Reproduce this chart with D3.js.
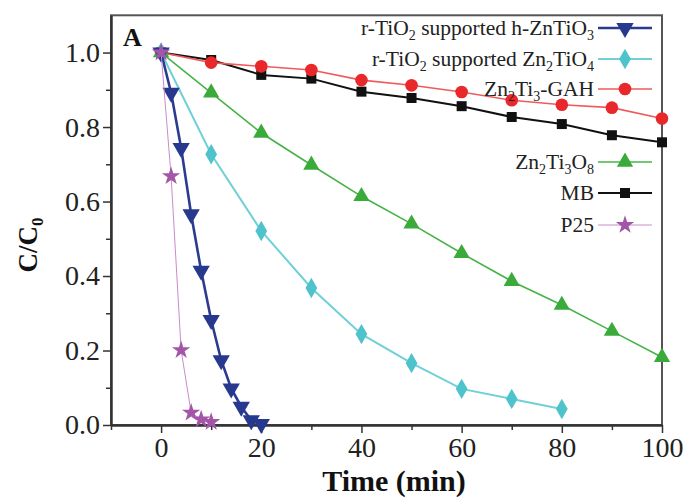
<!DOCTYPE html>
<html><head><meta charset="utf-8">
<script src="https://cdnjs.cloudflare.com/ajax/libs/d3/7.8.5/d3.min.js"></script>
<style>body{margin:0;background:#fff}svg{display:block}text{font-family:"Liberation Serif","Times New Roman",serif}</style>
</head><body><svg id="c" width="686" height="499"></svg>
<script>
// ---- data ----
const time10 = [0,10,20,30,40,50,60,70,80,90,100];
const mbVals = [1.0,0.98,0.94,0.93,0.895,0.878,0.856,0.827,0.808,0.778,0.759];
const gahVals = [1.0,0.973,0.963,0.953,0.926,0.912,0.894,0.872,0.860,0.852,0.823];
const zn2ti3o8Vals = [1.0,0.892,0.784,0.698,0.614,0.54,0.461,0.386,0.322,0.252,0.182];
const time80 = [0,10,20,30,40,50,60,70,80];
const zn2tio4Vals = [1.0,0.727,0.521,0.368,0.244,0.166,0.097,0.07,0.043];
const time2 = [0,2,4,6,8,10,12,14,16,18,20];
const znTiO3Vals = [1.0,0.892,0.744,0.566,0.414,0.282,0.174,0.098,0.049,0.013,0.003];
const timeP25 = [0,2,4,6,8,10];
const p25Vals = [1.0,0.668,0.201,0.033,0.015,0.008];
const xTicks = [0,20,40,60,80,100];
const xMinor = [-10,10,30,50,70,90];
const yTicks = [0,0.2,0.4,0.6,0.8,1.0];
const yMinor = [0.1,0.3,0.5,0.7,0.9];

const svg = d3.select("#c");
const x = d3.scaleLinear().domain([-10,100]).range([111,662]);
const y = d3.scaleLinear().domain([0,1.1]).range([425,15.3]);

// frame
svg.append("rect").attr("x",111).attr("y",15.3).attr("width",551).attr("height",409.7)
  .attr("fill","none").attr("stroke","#555").attr("stroke-width",2);

const fmt = d3.format(".1f");
svg.append("g").attr("transform","translate(0,425)")
  .call(d3.axisBottom(x).tickValues(xTicks).tickSize(8).tickPadding(4).tickSizeOuter(0));
svg.append("g").attr("transform","translate(0,425)")
  .call(d3.axisBottom(x).tickValues(xMinor).tickSize(5).tickFormat("").tickSizeOuter(0));
svg.append("g").attr("transform","translate(111,0)")
  .call(d3.axisLeft(y).tickValues(yTicks).tickSize(8).tickPadding(3).tickFormat(fmt).tickSizeOuter(0));
svg.append("g").attr("transform","translate(111,0)")
  .call(d3.axisLeft(y).tickValues(yMinor).tickSize(5).tickFormat("").tickSizeOuter(0));
svg.selectAll(".domain").attr("stroke","#333").attr("stroke-width",2);
svg.selectAll(".tick line").attr("stroke","#333").attr("stroke-width",1.5);
svg.selectAll(".tick text").attr("font-family","Liberation Serif").attr("font-size",28).attr("fill","#222");

// series
const series = [
  {t:time10, v:mbVals, color:"#111", line:"#111", lw:2, sym:d3.symbolSquare, size:100, rot:0},
  {t:time10, v:gahVals, color:"#e8282a", line:"#f05a5a", lw:1.6, sym:d3.symbolCircle, size:125, rot:0},
  {t:time10, v:zn2ti3o8Vals, color:"#3aab3a", line:"#47b347", lw:1.6, sym:d3.symbolTriangle, size:115, rot:0},
  {t:time80, v:zn2tio4Vals, color:"#4fc3cc", line:"#6fd0d8", lw:2, sym:d3.symbolDiamond, size:120, rot:0},
  {t:time2, v:znTiO3Vals, color:"#27388f", line:"#2b3b8f", lw:2.6, sym:d3.symbolTriangle, size:130, rot:180},
  {t:timeP25, v:p25Vals, color:"#a455a8", line:"#c98ccb", lw:1, sym:d3.symbolStar, size:105, rot:0}
];
const line = d3.line().x(d=>x(d[0])).y(d=>y(d[1]));
series.forEach(s=>{
  const pts = s.t.map((t,i)=>[t,s.v[i]]);
  svg.append("path").attr("d",line(pts)).attr("fill","none").attr("stroke",s.line).attr("stroke-width",s.lw);
  svg.append("g").selectAll("path").data(pts).join("path")
    .attr("d",d3.symbol().type(s.sym).size(s.size))
    .attr("transform",d=>`translate(${x(d[0])},${y(d[1])}) rotate(${s.rot})`)
    .attr("fill",s.color);
});

// legend
const legend = [
  {parts:[["r-TiO",0],["2",1],[" supported h-ZnTiO",0],["3",1]], s:series[4], y:28},
  {parts:[["r-TiO",0],["2",1],[" supported Zn",0],["2",1],["TiO",0],["4",1]], s:series[3], y:59},
  {parts:[["Zn",0],["2",1],["Ti",0],["3",1],["-GAH",0]], s:series[1], y:89},
  {parts:[["Zn",0],["2",1],["Ti",0],["3",1],["O",0],["8",1]], s:series[2], y:162},
  {parts:[["MB",0]], s:series[0], y:193},
  {parts:[["P25",0]], s:series[5], y:225}
];
legend.forEach(l=>{
  const t = svg.append("text").attr("x",594).attr("y",l.y+7).attr("text-anchor","end")
    .attr("font-size",21.5).attr("fill","#222");
  let sub=false;
  l.parts.forEach(p=>{
    const ts = t.append("tspan").text(p[0]);
    if(p[1] && !sub){ts.attr("dy",5).attr("font-size",14); sub=true;}
    else if(!p[1] && sub){ts.attr("dy",-5); sub=false;}
    else if(p[1]) ts.attr("font-size",14);
  });
  svg.append("line").attr("x1",598).attr("x2",652).attr("y1",l.y).attr("y2",l.y)
    .attr("stroke",l.s.line).attr("stroke-width",l.s.lw);
  svg.append("path").attr("d",d3.symbol().type(l.s.sym).size(l.s.size))
    .attr("transform",`translate(625,${l.y}) rotate(${l.s.rot})`).attr("fill",l.s.color);
});

// titles
svg.append("text").attr("x",394).attr("y",491).attr("text-anchor","middle")
  .attr("font-size",30).attr("font-weight","bold").attr("fill","#111").text("Time (min)");
const yl = svg.append("text").attr("transform","translate(37,245) rotate(-90)").attr("text-anchor","middle")
  .attr("font-size",27).attr("font-weight","bold").attr("fill","#111");
yl.append("tspan").text("C/C");
yl.append("tspan").attr("dy",6).attr("font-size",17).text("0");
svg.append("text").attr("x",123).attr("y",46).attr("font-size",26).attr("font-weight","bold").attr("fill","#111").text("A");
</script></body></html>
